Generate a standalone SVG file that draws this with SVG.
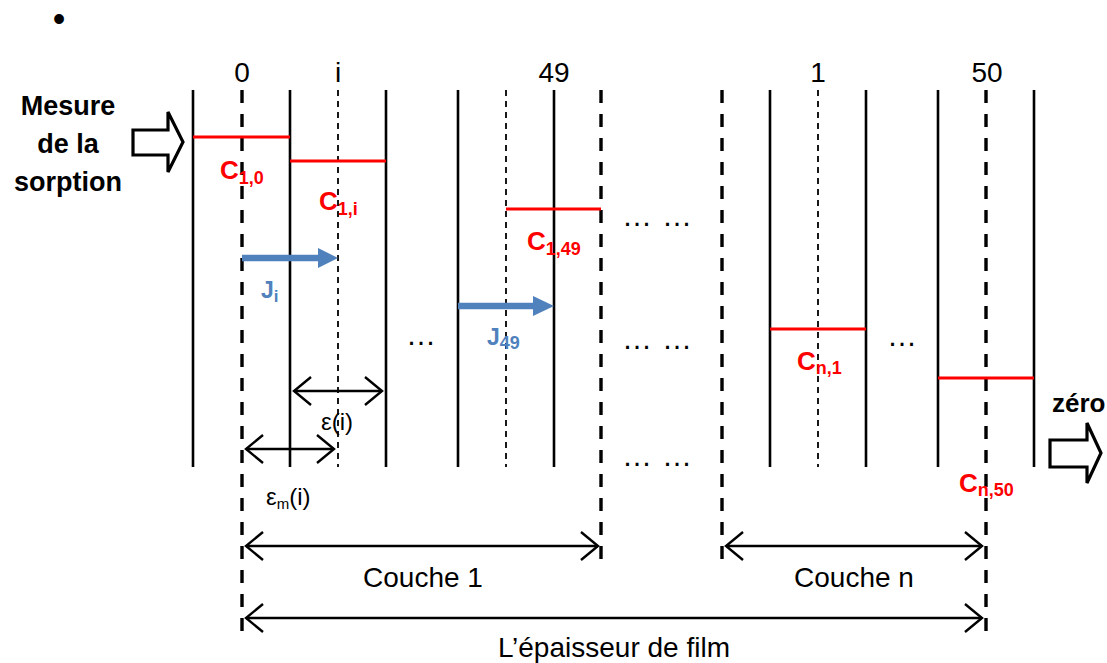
<svg xmlns="http://www.w3.org/2000/svg" width="1107" height="663" viewBox="0 0 1107 663">
<style>
text{font-family:"Liberation Sans",Arial,sans-serif;fill:#000}
.lbl{font-size:28px}
.b{font-weight:bold}
.red{fill:#FF0000;font-weight:bold;font-size:26px}
.blue{fill:#4F81BD;font-weight:bold;font-size:23px}
.sol{stroke:#000;stroke-width:2.6;fill:none}
.thk{stroke:#000;stroke-width:3.4;stroke-dasharray:13 11;fill:none}
.thn{stroke:#000;stroke-width:1.8;stroke-dasharray:6 5;fill:none}
.rl{stroke:#FF0000;stroke-width:3;fill:none}
.dbl{stroke:#000;stroke-width:2.4;fill:none;marker-start:url(#chev);marker-end:url(#chev)}
.ell{font-size:30px}
.hol{fill:#fff;stroke:#000;stroke-width:3.2;stroke-linejoin:miter}
</style>
<defs>
<marker id="chev" viewBox="-20 -18 24 36" refX="0" refY="0" markerWidth="24" markerHeight="36" markerUnits="userSpaceOnUse" orient="auto-start-reverse">
<path d="M-17,-14 L0,0 L-17,14" fill="none" stroke="#000" stroke-width="2.4"/>
</marker>
</defs>

<g id="bullet"><text x="59" y="31" text-anchor="middle" style="font-size:36px">•</text></g>

<g id="input">
<text class="b" x="68" y="115" text-anchor="middle" style="font-size:27px">Mesure</text>
<text class="b" x="68" y="153" text-anchor="middle" style="font-size:27px">de la</text>
<text class="b" x="68" y="191" text-anchor="middle" style="font-size:27px">sorption</text>
<polygon class="hol" points="133,130 168,130 168,112 183,142 168,172 168,155 133,155"/>
</g>

<g id="output">
<text class="b" x="1052" y="412" style="font-size:26px">zéro</text>
<polygon class="hol" points="1050,440 1087,440 1087,423 1101,453 1087,483 1087,467 1050,467"/>
</g>

<g id="index-labels" class="lbl">
<text x="242" y="82" text-anchor="middle">0</text>
<text x="338" y="82" text-anchor="middle">i</text>
<text x="554" y="82" text-anchor="middle">49</text>
<text x="818" y="82" text-anchor="middle">1</text>
<text x="987" y="82" text-anchor="middle">50</text>
</g>

<g id="layer-lines">
<line class="sol" x1="193" y1="90" x2="193" y2="467"/>
<line class="thk" x1="242" y1="90" x2="242" y2="640"/>
<line class="sol" x1="290" y1="90" x2="290" y2="467"/>
<line class="thn" x1="338" y1="90" x2="338" y2="467"/>
<line class="sol" x1="386" y1="90" x2="386" y2="467"/>
<line class="sol" x1="458" y1="90" x2="458" y2="467"/>
<line class="thn" x1="506" y1="90" x2="506" y2="467"/>
<line class="sol" x1="554" y1="90" x2="554" y2="467"/>
<line class="thk" x1="601" y1="90" x2="601" y2="570"/>
<line class="thk" x1="722" y1="90" x2="722" y2="570"/>
<line class="sol" x1="770" y1="90" x2="770" y2="467"/>
<line class="thn" x1="818" y1="90" x2="818" y2="467"/>
<line class="sol" x1="866" y1="90" x2="866" y2="467"/>
<line class="sol" x1="938" y1="90" x2="938" y2="467"/>
<line class="thk" x1="986" y1="90" x2="986" y2="640"/>
<line class="sol" x1="1034" y1="90" x2="1034" y2="467"/>
</g>

<g id="concentrations">
<line class="rl" x1="193" y1="137" x2="290" y2="137"/>
<line class="rl" x1="290" y1="161" x2="386" y2="161"/>
<line class="rl" x1="506" y1="209" x2="601" y2="209"/>
<line class="rl" x1="770" y1="329" x2="866" y2="329"/>
<line class="rl" x1="938" y1="378" x2="1034" y2="378"/>
<text class="red" x="220" y="179">C<tspan dy="5" style="font-size:18px">1,0</tspan></text>
<text class="red" x="319" y="210">C<tspan dy="5" style="font-size:18px">1,i</tspan></text>
<text class="red" x="527" y="250">C<tspan dy="5" style="font-size:18px">1,49</tspan></text>
<text class="red" x="797" y="370">C<tspan dy="4" style="font-size:18px">n,1</tspan></text>
<text class="red" x="959" y="492">C<tspan dy="4" style="font-size:18px">n,50</tspan></text>
</g>

<g id="fluxes">
<line x1="242" y1="258" x2="320" y2="258" stroke="#4F81BD" stroke-width="6.5"/>
<polygon points="318,248 338,258 318,268" fill="#4F81BD"/>
<line x1="458" y1="306" x2="535" y2="306" stroke="#4F81BD" stroke-width="6.5"/>
<polygon points="533,296 554,306 533,316" fill="#4F81BD"/>
<text class="blue" x="261" y="298">J<tspan dy="4" style="font-size:17px">i</tspan></text>
<text class="blue" x="487" y="345">J<tspan dy="4" style="font-size:18px">49</tspan></text>
</g>

<g id="ellipses" class="ell">
<text x="421" y="345" text-anchor="middle">…</text>
<text x="637" y="226" text-anchor="middle">…</text>
<text x="677" y="226" text-anchor="middle">…</text>
<text x="637" y="349" text-anchor="middle">…</text>
<text x="677" y="349" text-anchor="middle">…</text>
<text x="637" y="466" text-anchor="middle">…</text>
<text x="677" y="466" text-anchor="middle">…</text>
<text x="902" y="346" text-anchor="middle">…</text>
</g>

<g id="connectors">
<line class="dbl" x1="294" y1="391" x2="382" y2="391"/>
<line class="dbl" x1="246" y1="449" x2="334" y2="449"/>
<line class="dbl" x1="246" y1="546" x2="598" y2="546"/>
<line class="dbl" x1="726" y1="546" x2="982" y2="546"/>
<line class="dbl" x1="246" y1="618" x2="982" y2="618"/>
</g>

<g id="dimension-labels">
<text x="337" y="430" text-anchor="middle" style="font-size:24px">ε(i)</text>
<text x="266" y="505" style="font-size:24px">ε<tspan dy="4" style="font-size:15px">m</tspan><tspan dy="-4">(i)</tspan></text>
<text class="lbl" x="423" y="587" text-anchor="middle">Couche 1</text>
<text class="lbl" x="854" y="587" text-anchor="middle">Couche n</text>
<text class="lbl" x="614" y="657" text-anchor="middle">L’épaisseur de film</text>
</g>
</svg>
